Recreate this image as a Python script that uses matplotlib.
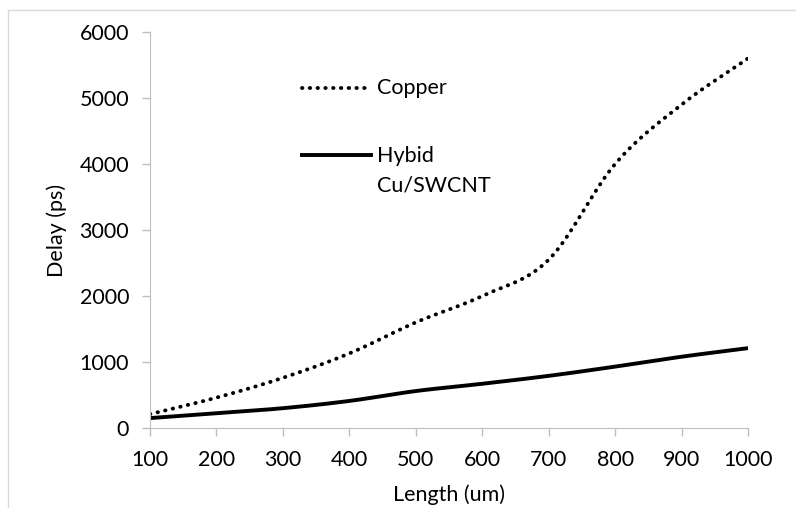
import numpy as np
import matplotlib
matplotlib.use("Agg")
import matplotlib.pyplot as plt
from matplotlib.patches import Rectangle

plt.rcParams['font.family'] = ['Lato', 'DejaVu Sans']

# data
length_um = [100, 200, 300, 400, 500, 600, 700, 800, 900, 1000]
copper_ps = [210, 460, 760, 1130, 1600, 2000, 2550, 4000, 4900, 5600]
hybrid_ps = [150, 225, 300, 410, 560, 670, 790, 930, 1080, 1210]

FS = 15.5


def smooth(x, y, n=30):
    # Catmull-Rom spline through the points, like Excel's smoothed line
    x = np.asarray(x, float)
    y = np.asarray(y, float)
    px = np.concatenate([[2 * x[0] - x[1]], x, [2 * x[-1] - x[-2]]])
    py = np.concatenate([[2 * y[0] - y[1]], y, [2 * y[-1] - y[-2]]])
    xs, ys = [], []
    t = np.linspace(0, 1, n, endpoint=False)
    for i in range(1, len(px) - 2):
        for p, out in ((px, xs), (py, ys)):
            p0, p1, p2, p3 = p[i - 1], p[i], p[i + 1], p[i + 2]
            out.extend(0.5 * (2 * p1 + (-p0 + p2) * t
                              + (2 * p0 - 5 * p1 + 4 * p2 - p3) * t ** 2
                              + (-p0 + 3 * p1 - 3 * p2 + p3) * t ** 3))
    xs.append(x[-1])
    ys.append(y[-1])
    return np.array(xs), np.array(ys)


fig = plt.figure(figsize=(7.96, 5.08), dpi=100)
fig.add_artist(Rectangle((8 / 796, -0.1), 1.1, 1.1 - 10 / 508, transform=fig.transFigure,
                         fill=False, edgecolor='#d9d9d9', linewidth=1))
ax = fig.add_axes([150 / 796, 80 / 508, 598 / 796, 396 / 508])

cx, cy = smooth(length_um, copper_ps)
hx, hy = smooth(length_um, hybrid_ps)
ax.plot(cx, cy, color='black', linewidth=2.8, linestyle=(0, (0.1, 1.9)),
        dash_capstyle='round')
ax.plot(hx, hy, color='black', linewidth=2.8, solid_capstyle='butt')

ax.set_xlim(100, 1000)
ax.set_ylim(0, 6000)
ax.set_xticks(range(100, 1001, 100))
ax.set_yticks(range(0, 6001, 1000))
ax.tick_params(labelsize=FS, length=6, width=1, color='#bfbfbf')
ax.tick_params(axis='y', pad=9)
ax.tick_params(axis='x', pad=10)
for s in ('top', 'right'):
    ax.spines[s].set_visible(False)
for s in ('left', 'bottom'):
    ax.spines[s].set_color('#bfbfbf')
ax.set_xlabel('Length (um)', fontsize=FS, labelpad=10)
ax.set_ylabel('Delay (ps)', fontsize=FS, labelpad=9)

# legend drawn inside the plot area
ax.plot([0.255, 0.37], [0.858, 0.858], transform=ax.transAxes, color='black',
        linewidth=2.8, linestyle=(0, (0.1, 1.9)), dash_capstyle='round')
ax.text(0.38, 0.858, 'Copper', transform=ax.transAxes, fontsize=FS, va='center')
ax.plot([0.255, 0.37], [0.69, 0.69], transform=ax.transAxes, color='black',
        linewidth=2.8)
ax.text(0.38, 0.688, 'Hybid', transform=ax.transAxes, fontsize=FS, va='center')
ax.text(0.38, 0.613, 'Cu/SWCNT', transform=ax.transAxes, fontsize=FS, va='center')

fig.savefig('out.png', dpi=100)
